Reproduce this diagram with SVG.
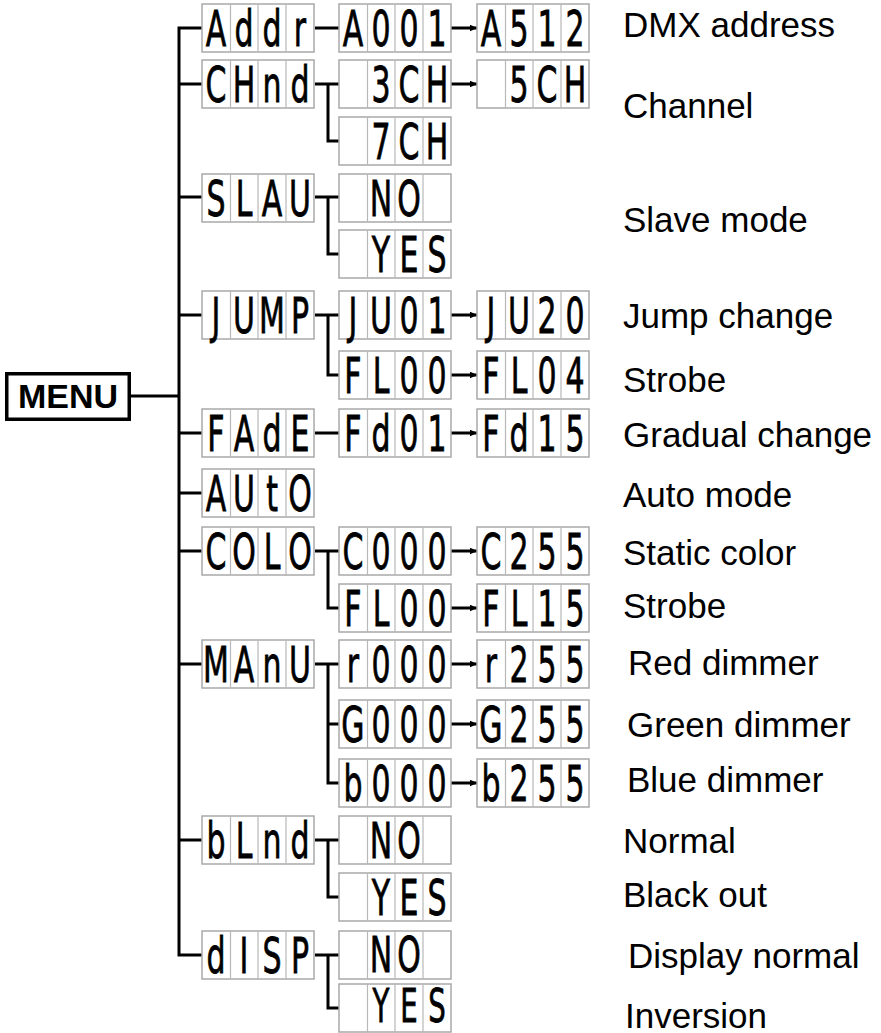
<svg xmlns="http://www.w3.org/2000/svg" xmlns:xlink="http://www.w3.org/1999/xlink" width="881" height="1033" viewBox="0 0 881 1033">
<style>
.frame{fill:#fff;stroke:#a9a9a9;stroke-width:1.5}
.cell{stroke:#b8b8b8;stroke-width:1.2}
.seg{font-family:"DejaVu Sans",sans-serif;font-weight:normal;font-size:50px;text-anchor:middle;fill:#000;stroke:#000;stroke-width:0.8}
.seg.sm{font-size:46px}
.lbl{font-family:"Liberation Sans",Arial,sans-serif;font-size:35px;fill:#000}
.menu{font-family:"Liberation Sans",Arial,sans-serif;font-weight:bold;font-size:34px;text-anchor:middle;fill:#000}
.wire{fill:none;stroke:#000;stroke-width:3;stroke-linejoin:miter}
.arr{fill:none;stroke:#000;stroke-width:3;marker-end:url(#ah)}
</style>
<defs>
<marker id="ah" viewBox="0 0 8 7" markerWidth="8" markerHeight="7" refX="7.5" refY="3.5" orient="auto" markerUnits="userSpaceOnUse"><path d="M0,0 L8,3.5 L0,7 z" fill="#000"/></marker>
<g id="frame"><rect class="frame" x="0" y="0" width="112" height="48"/><path class="cell" d="M28.5,0V48M56,0V48M84,0V48"/></g>
</defs>
<rect width="881" height="1033" fill="#fff"/>

<g id="connectors">
<path class="wire" d="M130,396H179M202,28H179V955H202M179,84H202M179,197H202M179,315H202M179,433H202M179,493H202M179,551H202M179,664H202M179,840H202"/>
<path class="wire" d="M315,28H339M315,84H339M328,84V141H339M315,197H339M328,197V254H339M315,315H339M328,315V375H339M315,433H339M315,551H339M328,551V608H339M315,664H339M328,664V783H339M328,724H339M315,840H339M328,840V897H339M315,955H339M328,955V1008H339"/>
<path class="arr" d="M451,28H477"/>
<path class="arr" d="M451,84H477"/>
<path class="arr" d="M451,315H477"/>
<path class="arr" d="M451,375H477"/>
<path class="arr" d="M451,433H477"/>
<path class="arr" d="M451,551H477"/>
<path class="arr" d="M451,608H477"/>
<path class="arr" d="M451,664H477"/>
<path class="arr" d="M451,724H477"/>
<path class="arr" d="M451,783H477"/>
</g>

<g id="menu"><rect x="6.75" y="373.75" width="122.5" height="45.5" fill="#fff" stroke="#000" stroke-width="3.5"/><text class="menu" x="68" y="408">MENU</text></g>

<g id="addr" transform="translate(202,4)"><use href="#frame"/><text class="seg" transform="scale(0.6,1)" x="23.3 70 116.7 163.3" y="42">Addr</text></g>
<g id="a001" transform="translate(339,4)"><use href="#frame"/><text class="seg" transform="scale(0.6,1)" x="23.3 70 116.7 163.3" y="42">A001</text></g>
<g id="a512" transform="translate(477,4)"><use href="#frame"/><text class="seg" transform="scale(0.6,1)" x="23.3 70 116.7 163.3" y="42">A512</text></g>

<g id="chnd" transform="translate(202,60)"><use href="#frame"/><text class="seg" transform="scale(0.6,1)" x="23.3 70 116.7 163.3" y="42">CHnd</text></g>
<g id="ch3" transform="translate(339,60)"><use href="#frame"/><text class="seg" transform="scale(0.6,1)" x="70 116.7 163.3" y="42">3CH</text></g>
<g id="ch5" transform="translate(477,60)"><use href="#frame"/><text class="seg" transform="scale(0.6,1)" x="70 116.7 163.3" y="42">5CH</text></g>
<g id="ch7" transform="translate(339,117)"><use href="#frame"/><text class="seg" transform="scale(0.6,1)" x="70 116.7 163.3" y="42">7CH</text></g>

<g id="slau" transform="translate(202,174)"><use href="#frame"/><text class="seg" transform="scale(0.6,1)" x="23.3 70 116.7 163.3" y="42">SLAU</text></g>
<g id="slau-no" transform="translate(339,174)"><use href="#frame"/><text class="seg" transform="scale(0.6,1)" x="70 116.7" y="42">NO</text></g>
<g id="slau-yes" transform="translate(339,230)"><use href="#frame"/><text class="seg" transform="scale(0.6,1)" x="70 116.7 163.3" y="42">YES</text></g>

<g id="jump" transform="translate(202,291)"><use href="#frame"/><text class="seg" transform="scale(0.6,1)" x="23.3 70 116.7 163.3" y="42">JUMP</text></g>
<g id="ju01" transform="translate(339,291)"><use href="#frame"/><text class="seg" transform="scale(0.6,1)" x="23.3 70 116.7 163.3" y="42">JU01</text></g>
<g id="ju20" transform="translate(477,291)"><use href="#frame"/><text class="seg" transform="scale(0.6,1)" x="23.3 70 116.7 163.3" y="42">JU20</text></g>
<g id="fl00a" transform="translate(339,351)"><use href="#frame"/><text class="seg" transform="scale(0.6,1)" x="23.3 70 116.7 163.3" y="42">FL00</text></g>
<g id="fl04" transform="translate(477,351)"><use href="#frame"/><text class="seg" transform="scale(0.6,1)" x="23.3 70 116.7 163.3" y="42">FL04</text></g>

<g id="fade" transform="translate(202,409)"><use href="#frame"/><text class="seg" transform="scale(0.6,1)" x="23.3 70 116.7 163.3" y="42">FAdE</text></g>
<g id="fd01" transform="translate(339,409)"><use href="#frame"/><text class="seg" transform="scale(0.6,1)" x="23.3 70 116.7 163.3" y="42">Fd01</text></g>
<g id="fd15" transform="translate(477,409)"><use href="#frame"/><text class="seg" transform="scale(0.6,1)" x="23.3 70 116.7 163.3" y="42">Fd15</text></g>

<g id="auto" transform="translate(202,469)"><use href="#frame"/><text class="seg" transform="scale(0.6,1)" x="23.3 70 116.7 163.3" y="42">AUtO</text></g>

<g id="colo" transform="translate(202,527)"><use href="#frame"/><text class="seg" transform="scale(0.6,1)" x="23.3 70 116.7 163.3" y="42">COLO</text></g>
<g id="c000" transform="translate(339,527)"><use href="#frame"/><text class="seg" transform="scale(0.6,1)" x="23.3 70 116.7 163.3" y="42">C000</text></g>
<g id="c255" transform="translate(477,527)"><use href="#frame"/><text class="seg" transform="scale(0.6,1)" x="23.3 70 116.7 163.3" y="42">C255</text></g>
<g id="fl00b" transform="translate(339,584)"><use href="#frame"/><text class="seg" transform="scale(0.6,1)" x="23.3 70 116.7 163.3" y="42">FL00</text></g>
<g id="fl15" transform="translate(477,584)"><use href="#frame"/><text class="seg" transform="scale(0.6,1)" x="23.3 70 116.7 163.3" y="42">FL15</text></g>

<g id="manu" transform="translate(202,640)"><use href="#frame"/><text class="seg" transform="scale(0.6,1)" x="23.3 70 116.7 163.3" y="42">MAnU</text></g>
<g id="r000" transform="translate(339,640)"><use href="#frame"/><text class="seg" transform="scale(0.6,1)" x="23.3 70 116.7 163.3" y="42">r000</text></g>
<g id="r255" transform="translate(477,640)"><use href="#frame"/><text class="seg" transform="scale(0.6,1)" x="23.3 70 116.7 163.3" y="42">r255</text></g>
<g id="g000" transform="translate(339,700)"><use href="#frame"/><text class="seg" transform="scale(0.6,1)" x="23.3 70 116.7 163.3" y="42">G000</text></g>
<g id="g255" transform="translate(477,700)"><use href="#frame"/><text class="seg" transform="scale(0.6,1)" x="23.3 70 116.7 163.3" y="42">G255</text></g>
<g id="b000" transform="translate(339,759)"><use href="#frame"/><text class="seg" transform="scale(0.6,1)" x="23.3 70 116.7 163.3" y="42">b000</text></g>
<g id="b255" transform="translate(477,759)"><use href="#frame"/><text class="seg" transform="scale(0.6,1)" x="23.3 70 116.7 163.3" y="42">b255</text></g>

<g id="blnd" transform="translate(202,816)"><use href="#frame"/><text class="seg" transform="scale(0.6,1)" x="23.3 70 116.7 163.3" y="42">bLnd</text></g>
<g id="blnd-no" transform="translate(339,816)"><use href="#frame"/><text class="seg" transform="scale(0.6,1)" x="70 116.7" y="42">NO</text></g>
<g id="blnd-yes" transform="translate(339,873)"><use href="#frame"/><text class="seg" transform="scale(0.6,1)" x="70 116.7 163.3" y="42">YES</text></g>

<g id="disp" transform="translate(202,931)"><use href="#frame"/><text class="seg" transform="scale(0.6,1)" x="23.3 70 116.7 163.3" y="42">dISP</text></g>
<g id="disp-no" transform="translate(339,931)"><use href="#frame"/><text class="seg" transform="scale(0.6,1)" x="70 116.7" y="41">NO</text></g>
<g id="disp-yes" transform="translate(339,984)"><use href="#frame"/><text class="seg sm" transform="scale(0.6,1)" x="70 116.7 163.3" y="38">YES</text></g>

<g id="labels">
<text class="lbl" x="623" y="37">DMX address</text>
<text class="lbl" x="623" y="118">Channel</text>
<text class="lbl" x="623" y="232">Slave mode</text>
<text class="lbl" x="623" y="328">Jump change</text>
<text class="lbl" x="623" y="392">Strobe</text>
<text class="lbl" x="623" y="447">Gradual change</text>
<text class="lbl" x="623" y="507">Auto mode</text>
<text class="lbl" x="623" y="565">Static color</text>
<text class="lbl" x="623" y="618">Strobe</text>
<text class="lbl" x="628" y="675">Red dimmer</text>
<text class="lbl" x="627" y="737">Green dimmer</text>
<text class="lbl" x="627" y="792">Blue dimmer</text>
<text class="lbl" x="623" y="853">Normal</text>
<text class="lbl" x="623" y="907">Black out</text>
<text class="lbl" x="628" y="968">Display normal</text>
<text class="lbl" x="625" y="1028">Inversion</text>
</g>
</svg>
